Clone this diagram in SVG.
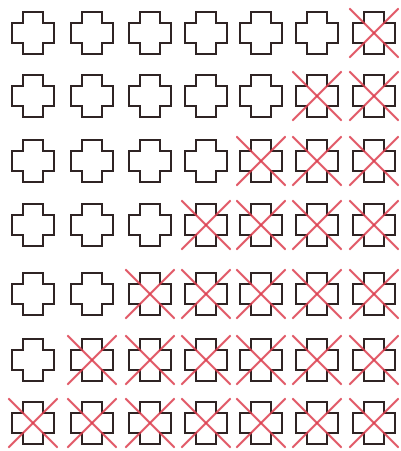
<svg xmlns="http://www.w3.org/2000/svg" xmlns:xlink="http://www.w3.org/1999/xlink" width="401" height="451" viewBox="0 0 401 451">
<style>
.c{fill:none;stroke:#2f2424;stroke-width:2;stroke-linejoin:miter}
.x{stroke:#dc3c4c;stroke-width:2.2;stroke-opacity:0.85;stroke-linecap:round}
</style>
<defs>
<path id="cross" class="c" d="M11,0H31V11H42V31H31V42H11V31H0V11H11Z"/>
<g id="ex"><line class="x" x1="-3" y1="-3" x2="45" y2="45"/><line class="x" x1="45" y1="-3" x2="-3" y2="45"/></g>
</defs>
<rect width="401" height="451" fill="#ffffff"/>
<g id="row1" transform="translate(0,12)">
<g id="r1c1"><use href="#cross" x="12"/></g>
<g id="r1c2"><use href="#cross" x="71"/></g>
<g id="r1c3"><use href="#cross" x="129"/></g>
<g id="r1c4"><use href="#cross" x="185"/></g>
<g id="r1c5"><use href="#cross" x="240"/></g>
<g id="r1c6"><use href="#cross" x="296"/></g>
<g id="r1c7"><use href="#cross" x="353"/><use href="#ex" x="353"/></g>
</g>
<g id="row2" transform="translate(0,75)">
<g id="r2c1"><use href="#cross" x="12"/></g>
<g id="r2c2"><use href="#cross" x="71"/></g>
<g id="r2c3"><use href="#cross" x="129"/></g>
<g id="r2c4"><use href="#cross" x="185"/></g>
<g id="r2c5"><use href="#cross" x="240"/></g>
<g id="r2c6"><use href="#cross" x="296"/><use href="#ex" x="296"/></g>
<g id="r2c7"><use href="#cross" x="353"/><use href="#ex" x="353"/></g>
</g>
<g id="row3" transform="translate(0,140)">
<g id="r3c1"><use href="#cross" x="12"/></g>
<g id="r3c2"><use href="#cross" x="71"/></g>
<g id="r3c3"><use href="#cross" x="129"/></g>
<g id="r3c4"><use href="#cross" x="185"/></g>
<g id="r3c5"><use href="#cross" x="240"/><use href="#ex" x="240"/></g>
<g id="r3c6"><use href="#cross" x="296"/><use href="#ex" x="296"/></g>
<g id="r3c7"><use href="#cross" x="353"/><use href="#ex" x="353"/></g>
</g>
<g id="row4" transform="translate(0,204)">
<g id="r4c1"><use href="#cross" x="12"/></g>
<g id="r4c2"><use href="#cross" x="71"/></g>
<g id="r4c3"><use href="#cross" x="129"/></g>
<g id="r4c4"><use href="#cross" x="185"/><use href="#ex" x="185"/></g>
<g id="r4c5"><use href="#cross" x="240"/><use href="#ex" x="240"/></g>
<g id="r4c6"><use href="#cross" x="296"/><use href="#ex" x="296"/></g>
<g id="r4c7"><use href="#cross" x="353"/><use href="#ex" x="353"/></g>
</g>
<g id="row5" transform="translate(0,273)">
<g id="r5c1"><use href="#cross" x="12"/></g>
<g id="r5c2"><use href="#cross" x="71"/></g>
<g id="r5c3"><use href="#cross" x="129"/><use href="#ex" x="129"/></g>
<g id="r5c4"><use href="#cross" x="185"/><use href="#ex" x="185"/></g>
<g id="r5c5"><use href="#cross" x="240"/><use href="#ex" x="240"/></g>
<g id="r5c6"><use href="#cross" x="296"/><use href="#ex" x="296"/></g>
<g id="r5c7"><use href="#cross" x="353"/><use href="#ex" x="353"/></g>
</g>
<g id="row6" transform="translate(0,339)">
<g id="r6c1"><use href="#cross" x="12"/></g>
<g id="r6c2"><use href="#cross" x="71"/><use href="#ex" x="71"/></g>
<g id="r6c3"><use href="#cross" x="129"/><use href="#ex" x="129"/></g>
<g id="r6c4"><use href="#cross" x="185"/><use href="#ex" x="185"/></g>
<g id="r6c5"><use href="#cross" x="240"/><use href="#ex" x="240"/></g>
<g id="r6c6"><use href="#cross" x="296"/><use href="#ex" x="296"/></g>
<g id="r6c7"><use href="#cross" x="353"/><use href="#ex" x="353"/></g>
</g>
<g id="row7" transform="translate(0,402)">
<g id="r7c1"><use href="#cross" x="12"/><use href="#ex" x="12"/></g>
<g id="r7c2"><use href="#cross" x="71"/><use href="#ex" x="71"/></g>
<g id="r7c3"><use href="#cross" x="129"/><use href="#ex" x="129"/></g>
<g id="r7c4"><use href="#cross" x="185"/><use href="#ex" x="185"/></g>
<g id="r7c5"><use href="#cross" x="240"/><use href="#ex" x="240"/></g>
<g id="r7c6"><use href="#cross" x="296"/><use href="#ex" x="296"/></g>
<g id="r7c7"><use href="#cross" x="353"/><use href="#ex" x="353"/></g>
</g>
<g id="connectors"/>
</svg>
